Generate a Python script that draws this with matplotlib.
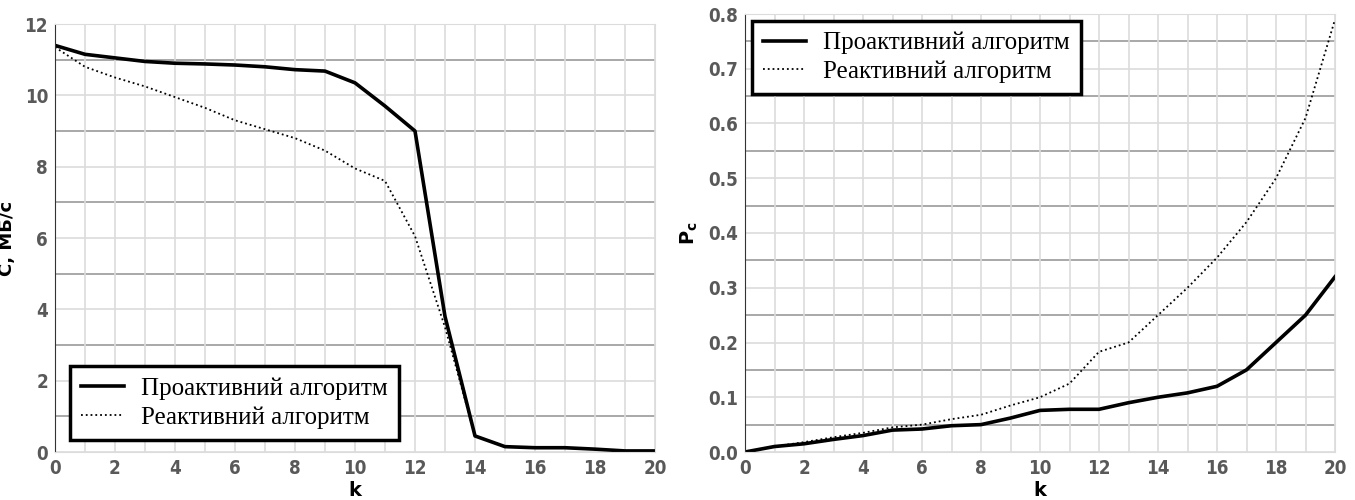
import numpy as np
import matplotlib
matplotlib.use("Agg")
import matplotlib.pyplot as plt
from matplotlib.ticker import MultipleLocator

# Data
k = list(range(21))
c_proactive = [11.4, 11.15, 11.05, 10.95, 10.9, 10.88, 10.85, 10.8, 10.72, 10.68, 10.35,
               9.7, 9.0, 3.8, 0.45, 0.15, 0.12, 0.12, 0.08, 0.03, 0.03]
c_reactive = [11.35, 10.8, 10.5, 10.25, 9.95, 9.65, 9.3, 9.05, 8.8, 8.45, 7.95,
              7.6, 6.05, 3.5, 0.45, 0.15, 0.12, 0.12, 0.08, 0.03, 0.03]
p_proactive = [0.0, 0.01, 0.015, 0.023, 0.03, 0.04, 0.042, 0.048, 0.05, 0.062, 0.076,
               0.078, 0.078, 0.09, 0.1, 0.108, 0.12, 0.15, 0.2, 0.25, 0.32]
p_reactive = [0.0, 0.01, 0.018, 0.027, 0.035, 0.045, 0.05, 0.06, 0.068, 0.085, 0.1,
              0.125, 0.183, 0.2, 0.25, 0.3, 0.355, 0.42, 0.5, 0.61, 0.79]

names = ["Проактивний алгоритм", "Реактивний алгоритм"]

legend_font = ["Liberation Serif", "DejaVu Serif"]

fig = plt.figure(figsize=(13.55, 5), dpi=100)
ax1 = fig.add_axes([55/1355, 48/500, 600/1355, 428/500])
ax2 = fig.add_axes([745/1355, 48/500, 590/1355, 438/500])


def style(ax, ymax, ymajor, dark_offset):
    ax.set_xlim(0, 20)
    ax.set_ylim(0, ymax)
    ax.xaxis.set_major_locator(MultipleLocator(2))
    ax.xaxis.set_minor_locator(MultipleLocator(1))
    ax.yaxis.set_major_locator(MultipleLocator(ymajor))
    ax.yaxis.set_minor_locator(MultipleLocator(ymajor / 2))
    ax.grid(which="both", axis="x", color="#dcdcdc", lw=1.2)
    ax.grid(which="major", axis="y", color="#dcdcdc", lw=1.2)
    # darker horizontal lines half way between labelled values
    for y in np.arange(dark_offset, ymax, ymajor):
        ax.axhline(y, color="#9a9a9a", lw=1.2, zorder=0.5)
    ax.set_axisbelow(True)
    ax.tick_params(which="both", length=0, pad=5)
    for lab in ax.get_xticklabels() + ax.get_yticklabels():
        lab.set_family("DejaVu Sans")
        lab.set_stretch("condensed")
        lab.set_fontweight("bold")
        lab.set_color("#595959")
        lab.set_fontsize(13.5)
    for side in ["top", "right"]:
        ax.spines[side].set_color("#dcdcdc")
    ax.spines["left"].set_color("#333333")
    ax.spines["bottom"].set_color("#dcdcdc")
    ax.set_xlabel("k", fontsize=14, fontweight="bold", labelpad=2)


def legend(ax, **kw):
    leg = ax.legend(prop={"family": legend_font, "size": 18}, frameon=True, fancybox=False,
                    handlelength=1.7, handletextpad=0.7, borderpad=0.45, labelspacing=0.25,
                    borderaxespad=0, **kw)
    leg.get_frame().set_edgecolor("black")
    leg.get_frame().set_linewidth(2.5)
    leg.get_frame().set_alpha(1)


ax1.plot(k, c_proactive, color="black", lw=2.6, label=names[0])
ax1.plot(k, c_reactive, color="black", lw=1.3, ls=":", label=names[1])
style(ax1, 12, 2, 1)
ax1.set_ylabel("С, МБ/с", fontsize=13, fontweight="bold", labelpad=6)
legend(ax1, loc="lower left", bbox_to_anchor=(0.025, 0.028))

ax2.plot(k, p_proactive, color="black", lw=2.6, label=names[0])
ax2.plot(k, p_reactive, color="black", lw=1.3, ls=":", label=names[1])
style(ax2, 0.8, 0.1, 0.05)
ax2.set_ylabel("P$_{\\mathbf{c}}$", fontsize=14, fontweight="bold", labelpad=6)
legend(ax2, loc="upper left", bbox_to_anchor=(0.012, 0.985))

fig.savefig("out.png", dpi=100)
